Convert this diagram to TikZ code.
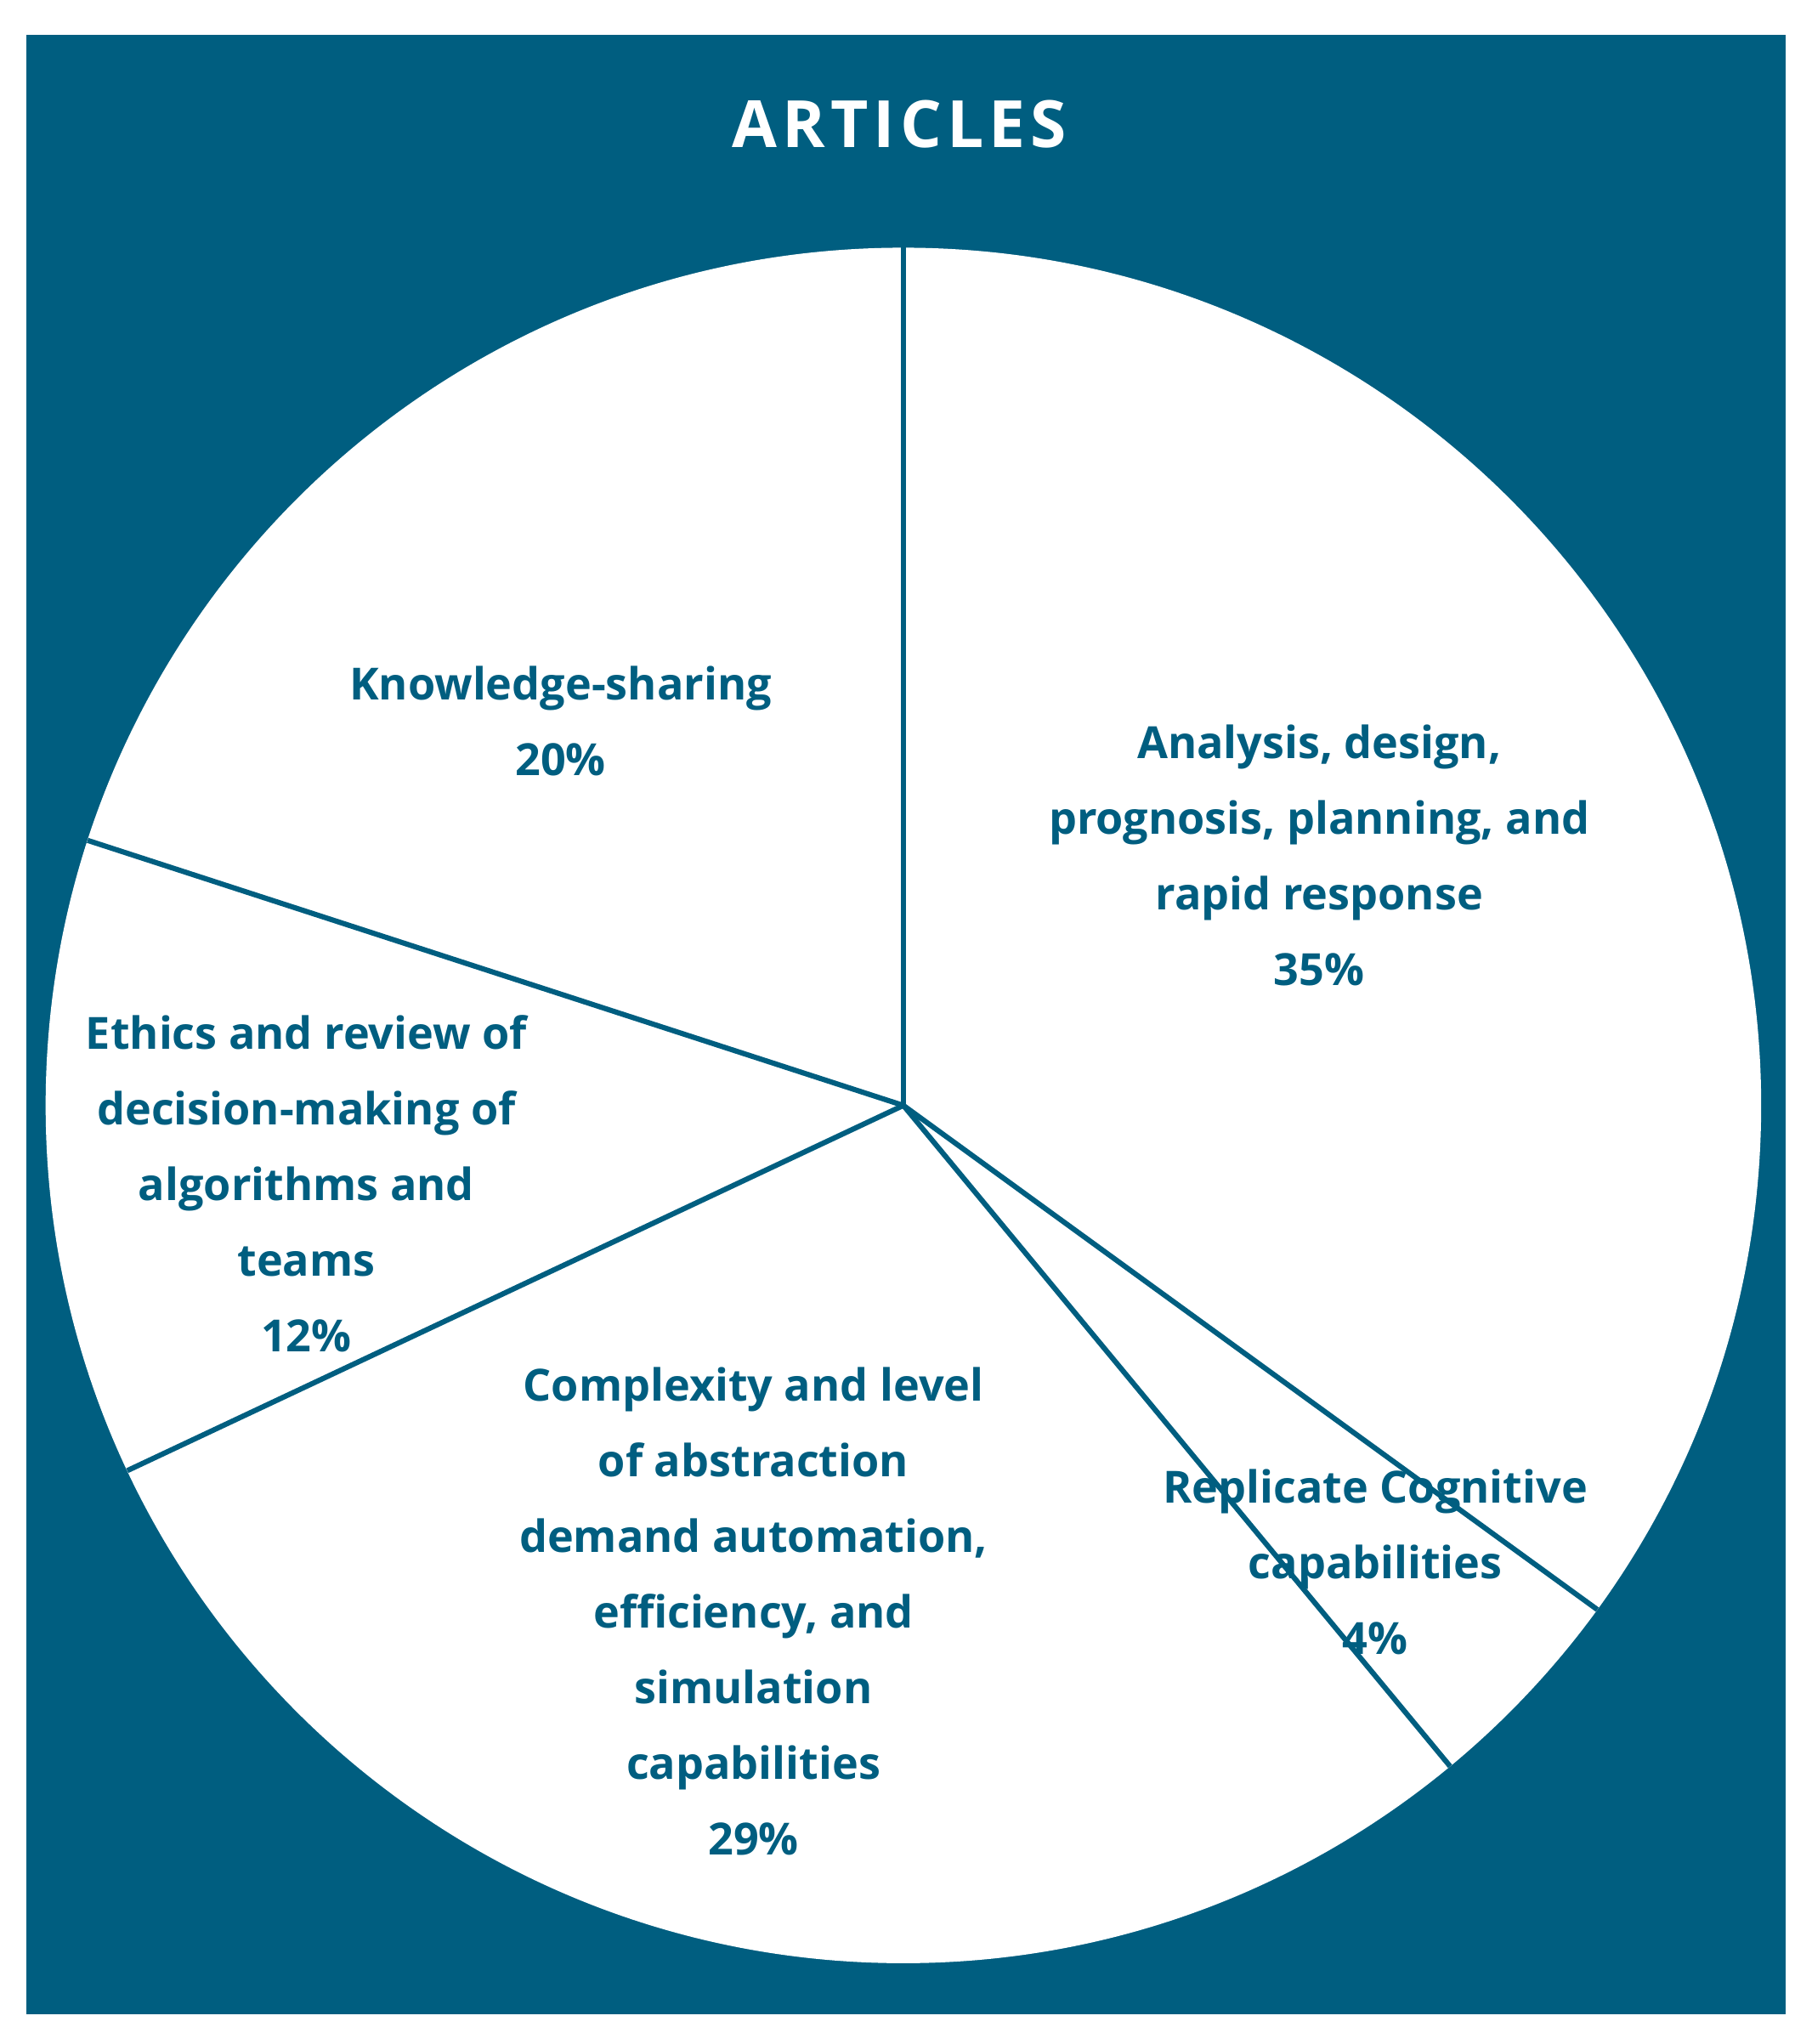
\documentclass[tikz,border=0pt]{standalone}
\usepackage{fontspec}
\usetikzlibrary{calc}
\setmainfont{Open Sans}
\newfontfamily\titlefont[LetterSpace=8]{Open Sans}
\definecolor{navy}{HTML}{005E80}
\begin{document}
\begin{tikzpicture}[x=1pt,y=1pt,
  lab/.style={text=navy,font=\fontsize{34}{58}\selectfont\bfseries,align=center},
  sep/.style={draw=navy,line width=4pt}]
\useasboundingbox (0,0) rectangle (1390,-1568);
\fill[white] (0,0) rectangle (1390,-1568);
\fill[navy] (20,-27) rectangle (1370,-1545);
\coordinate (c) at (693,-848);
\fill[white] (c) circle (658);
\foreach \a/\n in {90/p1,-36/p2,-50.4/p3,-154.8/p4,162/p5}
  \coordinate (\n) at ($(c)+(\a:658)$);
\foreach \n in {p1,p2,p3,p4,p5} \draw[sep] (c) -- (\n);
\node[text=white,font=\titlefont\fontsize{50}{60}\selectfont\bfseries] (t) at (690,-95) {ARTICLES};
\node[lab] (k) at (430,-553) {Knowledge-sharing\\20\%};
\node[lab] (a) at (1012,-656) {Analysis, design,\\prognosis, planning, and\\rapid response\\35\%};
\node[lab] (e) at (235,-908) {Ethics and review of\\decision-making of\\algorithms and\\teams\\12\%};
\node[lab] (x) at (578,-1236) {Complexity and level\\of abstraction\\demand automation,\\efficiency, and\\simulation\\capabilities\\29\%};
\node[lab] (r) at (1055,-1198) {Replicate Cognitive\\capabilities\\4\%};
\end{tikzpicture}
\end{document}
